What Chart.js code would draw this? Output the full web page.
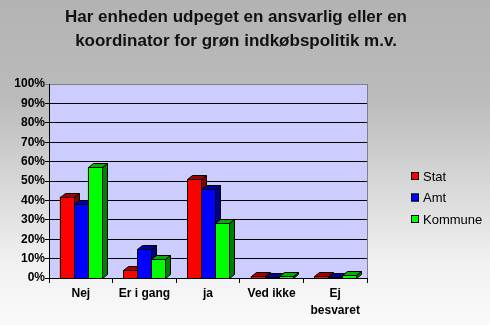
<!DOCTYPE html>
<html>
<head>
<meta charset="utf-8">
<script src="https://cdn.jsdelivr.net/npm/chart.js@4/dist/chart.umd.min.js"></script>
<style>
  html, body { margin: 0; padding: 0; background: #fff; }
  #wrap { width: 490px; height: 325px; }
</style>
</head>
<body>
<div id="wrap"><canvas id="chart" width="490" height="325"></canvas></div>
<script>
// --- data ---
const titleLines = ['Har enheden udpeget en ansvarlig eller en', 'koordinator for grøn indkøbspolitik m.v.'];
const categories = ['Nej', 'Er i gang', 'ja', 'Ved ikke', ['Ej', 'besvaret']];
const seriesNames = ['Stat', 'Amt', 'Kommune'];
const statValues = [42, 4, 51, 1, 1];
const amtValues = [38, 15, 46, 0.4, 0.4];
const kommuneValues = [57, 10, 28.5, 1.2, 1.3];
const yTicks = [0, 10, 20, 30, 40, 50, 60, 70, 80, 90, 100];

const FONT = "'Liberation Sans', Arial, sans-serif";
const colors = [
    { front: '#ff0000', top: '#a00000', side: '#800000' },
    { front: '#0000ff', top: '#0000a0', side: '#000080' },
    { front: '#00ff00', top: '#00b000', side: '#008000' }
];
const DX = 5, DY = 4; // depth of the 3d effect

// background, plot fill, borders
const framePlugin = {
    id: 'frame',
    beforeDraw(chart) {
        const { ctx, chartArea: a, width, height } = chart;
        ctx.save();
        const g = ctx.createLinearGradient(0, 0, 0, height);
        g.addColorStop(0, '#b3b3b3');
        g.addColorStop(0.3, '#bbbbbb');
        g.addColorStop(0.8, '#f0f0f0');
        g.addColorStop(1, '#fafafa');
        ctx.fillStyle = g;
        ctx.fillRect(0, 0, width, height);
        ctx.fillStyle = '#ccccff';
        ctx.fillRect(a.left, a.top, a.right - a.left, a.bottom - a.top);
        ctx.restore();
    },
    afterDraw(chart) {
        const { ctx, chartArea: a } = chart;
        ctx.save();
        // right border of plot
        ctx.strokeStyle = '#808080';
        ctx.lineWidth = 1;
        ctx.beginPath();
        ctx.moveTo(Math.round(a.right) + 0.5, a.top);
        ctx.lineTo(Math.round(a.right) + 0.5, a.bottom);
        ctx.stroke();

        // title
        ctx.fillStyle = '#111';
        ctx.font = 'bold 17px ' + FONT;
        ctx.textAlign = 'center';
        ctx.textBaseline = 'alphabetic';
        ctx.fillText(titleLines[0], 236, 22);
        ctx.fillText(titleLines[1], 236, 46);

        // legend
        ctx.font = '13px ' + FONT;
        ctx.textAlign = 'left';
        ctx.textBaseline = 'middle';
        seriesNames.forEach((name, i) => {
            const y = 176 + i * 21.5;
            ctx.fillStyle = colors[i].front;
            ctx.fillRect(411, y - 4, 8, 8);
            ctx.strokeStyle = '#000';
            ctx.strokeRect(411.5, y - 3.5, 7, 7);
            ctx.fillStyle = '#000';
            ctx.fillText(name, 423, y + 1);
        });
        ctx.restore();
    }
};

// repaint the bars with a top and a side face, series by series
const bars3dPlugin = {
    id: 'bars3d',
    afterDatasetsDraw(chart) {
        const ctx = chart.ctx;
        ctx.save();
        ctx.lineWidth = 1;
        ctx.strokeStyle = '#000';
        ctx.lineJoin = 'miter';
        chart.data.datasets.forEach((ds, i) => {
            const meta = chart.getDatasetMeta(i);
            meta.data.forEach(el => {
                const p = el.getProps(['x', 'y', 'base', 'width'], true);
                const l = Math.round(p.x - p.width / 2) + 0.5;
                const r = Math.round(p.x + p.width / 2) + 0.5;
                const t = Math.round(p.y) + 0.5;
                const b = Math.round(p.base) + 0.5;
                // side
                ctx.fillStyle = colors[i].side;
                ctx.beginPath();
                ctx.moveTo(r, t);
                ctx.lineTo(r + DX, t - DY);
                ctx.lineTo(r + DX, b - DY);
                ctx.lineTo(r, b);
                ctx.closePath();
                ctx.fill();
                ctx.stroke();
                // top
                ctx.fillStyle = colors[i].top;
                ctx.beginPath();
                ctx.moveTo(l, t);
                ctx.lineTo(l + DX, t - DY);
                ctx.lineTo(r + DX, t - DY);
                ctx.lineTo(r, t);
                ctx.closePath();
                ctx.fill();
                ctx.stroke();
                // front
                ctx.fillStyle = colors[i].front;
                ctx.fillRect(l, t, r - l, b - t);
                ctx.strokeRect(l, t, r - l, b - t);
            });
        });
        ctx.restore();
    }
};

new Chart(document.getElementById('chart').getContext('2d'), {
    type: 'bar',
    data: {
        labels: categories,
        datasets: [
            { label: seriesNames[0], data: statValues, backgroundColor: colors[0].front },
            { label: seriesNames[1], data: amtValues, backgroundColor: colors[1].front },
            { label: seriesNames[2], data: kommuneValues, backgroundColor: colors[2].front }
        ]
    },
    options: {
        responsive: false,
        animation: false,
        devicePixelRatio: 1,
        layout: { padding: { top: 84, right: 123, bottom: 0, left: 0 } },
        datasets: { bar: { categoryPercentage: 0.66, barPercentage: 1 } },
        plugins: {
            legend: { display: false },
            title: { display: false },
            tooltip: { enabled: false }
        },
        scales: {
            x: {
                afterFit: s => { s.height = 47; },
                grid: { drawOnChartArea: false, offset: true, tickLength: 5, color: '#000' },
                border: { color: '#000' },
                ticks: {
                    color: '#000',
                    padding: 2,
                    maxRotation: 0,
                    autoSkip: false,
                    font: { family: FONT, size: 12, weight: 'bold', lineHeight: 1.4 }
                }
            },
            y: {
                min: 0,
                max: 100,
                afterFit: s => { s.width = 49; },
                afterBuildTicks: s => { s.ticks = yTicks.map(v => ({ value: v })); },
                grid: {
                    color: c => (c.tick && c.tick.value === 100 ? '#808080' : '#000'),
                    tickLength: 4
                },
                border: { color: '#000' },
                ticks: {
                    color: '#000',
                    padding: 0,
                    font: { family: FONT, size: 12, weight: 'bold' },
                    callback: v => v + '%'
                }
            }
        }
    },
    plugins: [framePlugin, bars3dPlugin]
});
</script>
</body>
</html>
